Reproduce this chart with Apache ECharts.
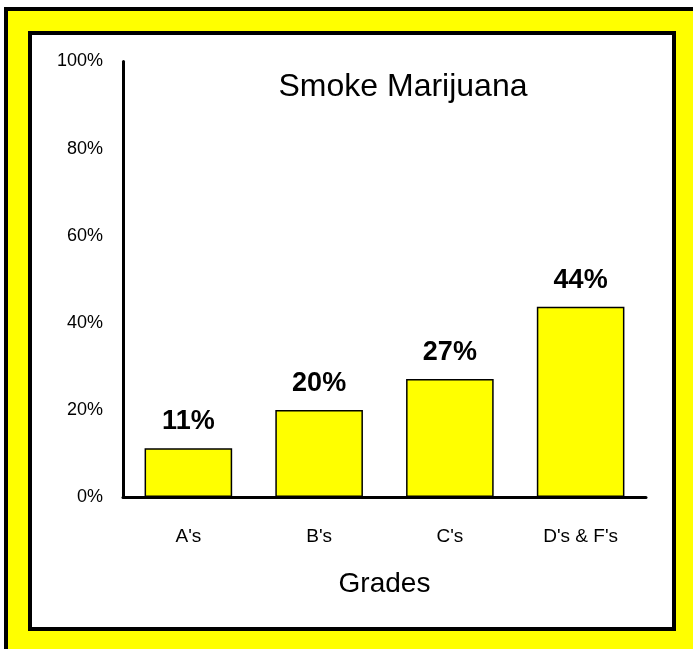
<!DOCTYPE html>
<html>
<head>
<meta charset="utf-8">
<script src="https://cdn.jsdelivr.net/npm/echarts@6/dist/echarts.min.js"></script>
<style>
  html, body { margin: 0; padding: 0; width: 693px; height: 649px; background: #ffffff; overflow: hidden; }
  #outer { position: absolute; left: 4px; top: 7px; width: 685px; height: 638px;
           border-left: 4px solid #000; border-top: 4px solid #000; background: #ffff00; }
  #inner { position: absolute; left: 28px; top: 31px; width: 640px; height: 592px;
           border: 4px solid #000; background: #ffffff; }
  #chart { position: absolute; left: 0; top: 0; width: 693px; height: 649px; }
</style>
</head>
<body>
<div id="outer"></div>
<div id="inner"></div>
<div id="chart"></div>
<script>
const titleText = 'Smoke Marijuana';
const xAxisTitle = 'Grades';
const categories = ["A's", "B's", "C's", "D's & F's"];
const values = [11.2, 20, 27.1, 43.7];
const yTicks = [0, 20, 40, 60, 80, 100];

const font = "'Liberation Sans', Arial, sans-serif";
const chart = echarts.init(document.getElementById('chart'), null, { renderer: 'canvas' });
chart.setOption({
  backgroundColor: 'transparent',
  animation: false,
  title: {
    text: titleText,
    left: 398, top: 66, textAlign: 'center',
    textStyle: { fontFamily: font, fontSize: 32, fontWeight: 'normal', color: '#000' }
  },
  grid: { left: 123, right: 47, top: 61.5, bottom: 152, containLabel: false },
  xAxis: {
    type: 'category',
    data: categories,
    name: xAxisTitle,
    nameLocation: 'middle',
    nameGap: 73,
    nameTextStyle: { fontFamily: font, fontSize: 28, color: '#000' },
    axisLine: { lineStyle: { color: '#000', width: 3 } },
    axisTick: { show: false },
    axisLabel: { fontFamily: font, fontSize: 19, color: '#000', margin: 30 }
  },
  yAxis: {
    type: 'value',
    min: yTicks[0], max: yTicks[yTicks.length - 1], interval: 20,
    axisLine: { show: true, lineStyle: { color: '#000', width: 3 } },
    axisTick: { show: false },
    splitLine: { show: false },
    axisLabel: { fontFamily: font, fontSize: 18, color: '#000', margin: 20,
                 padding: [10, 0, 0, 0],
                 formatter: v => v + '%' }
  },
  series: [{
    type: 'bar',
    data: values,
    barWidth: '67%',
    itemStyle: { color: '#ffff00', borderColor: '#000', borderWidth: 1.5 },
    label: {
      show: true, position: 'top', distance: 13,
      fontFamily: font, fontSize: 27, fontWeight: 'bold', color: '#000',
      formatter: p => Math.round(p.value) + '%'
    }
  }]
});
</script>
</body>
</html>
